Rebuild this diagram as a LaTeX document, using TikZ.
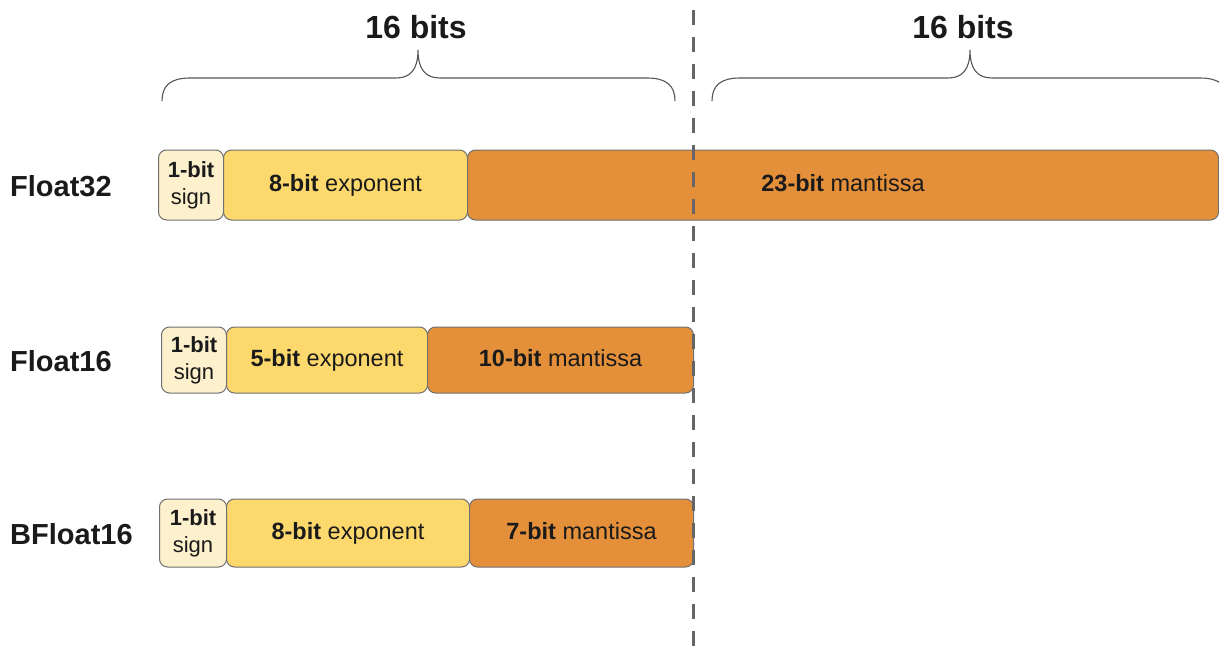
\documentclass[tikz,border=0pt]{standalone}
\usepackage{fontspec}
\setmainfont{Liberation Sans}
\definecolor{signc}{HTML}{FDF0CD}
\definecolor{expc}{HTML}{FDD86C}
\definecolor{manc}{HTML}{E4903A}
\definecolor{edgec}{HTML}{707070}
\definecolor{dashc}{HTML}{666666}
\definecolor{bracec}{HTML}{555555}
\definecolor{txtc}{HTML}{1A1A1A}
\begin{document}
\begin{tikzpicture}[x=1pt,y=-1pt,
  fld/.style={draw=edgec, line width=1pt, rounded corners=8pt, inner sep=0pt, anchor=west,
    text=txtc, font=\fontsize{23.5}{27}\selectfont, align=center},
  signbox/.style={fld, fill=signc, font=\fontsize{22}{27}\selectfont},
  expbox/.style={fld, fill=expc},
  manbox/.style={fld, fill=manc},
  rowlabel/.style={anchor=west, inner sep=0pt, text=txtc, font=\fontsize{29}{32}\selectfont\bfseries},
  toplabel/.style={inner sep=0pt, text=txtc, font=\fontsize{32}{34}\selectfont\bfseries},
  bracestyle/.style={draw=bracec, line width=1.1pt},
  divider/.style={draw=dashc, line width=3pt, dash pattern=on 15pt off 12pt}
]
\useasboundingbox (0,0) rectangle (1219,651);
\clip (0,0) rectangle (1219,651);

% top labels
\node[toplabel] (l1) at (416,27) {16 bits};
\node[toplabel] (l2) at (963,27) {16 bits};

% braces
\draw[bracestyle] (162,101) .. controls (162,86) and (170,78) .. (190,78) -- (396,78)
  .. controls (410,78) and (418,70) .. (418,50)
  .. controls (418,70) and (426,78) .. (440,78) -- (647,78)
  .. controls (667,78) and (675,86) .. (675,101);
\draw[bracestyle] (712,101) .. controls (712,86) and (720,78) .. (740,78) -- (948,78)
  .. controls (962,78) and (970,70) .. (970,50)
  .. controls (970,70) and (978,78) .. (992,78) -- (1200,78)
  .. controls (1220,78) and (1228,86) .. (1228,101);

% Float32
\node[rowlabel] (f32) at (10,186) {Float32};
\node[signbox, minimum width=65pt, minimum height=70pt] (s32) at (158,185) {\textbf{1-bit}\\sign};
\node[expbox, minimum width=244pt, minimum height=70pt] (e32) at (223,185) {\textbf{8-bit} exponent\vphantom{Ig}};
\node[manbox, minimum width=751pt, minimum height=70pt] (m32) at (467,185) {\textbf{23-bit} mantissa\vphantom{Ig}};

% Float16
\node[rowlabel] (f16) at (10,361) {Float16};
\node[signbox, minimum width=65pt, minimum height=66pt] (s16) at (161,360) {\textbf{1-bit}\\sign};
\node[expbox, minimum width=201pt, minimum height=66pt] (e16) at (226,360) {\textbf{5-bit} exponent\vphantom{Ig}};
\node[manbox, minimum width=266pt, minimum height=66pt] (m16) at (427,360) {\textbf{10-bit} mantissa\vphantom{Ig}};

% BFloat16
\node[rowlabel] (bf16) at (10,534) {BFloat16};
\node[signbox, minimum width=67pt, minimum height=68pt] (sb16) at (159,533) {\textbf{1-bit}\\sign};
\node[expbox, minimum width=243pt, minimum height=68pt] (eb16) at (226,533) {\textbf{8-bit} exponent\vphantom{Ig}};
\node[manbox, minimum width=224pt, minimum height=68pt] (mb16) at (469,533) {\textbf{7-bit} mantissa\vphantom{Ig}};

% dashed divider
\coordinate (dtop) at (693,10);
\coordinate (dbot) at (693,651);
\draw[divider] (dtop) -- (dbot);
\end{tikzpicture}
\end{document}
